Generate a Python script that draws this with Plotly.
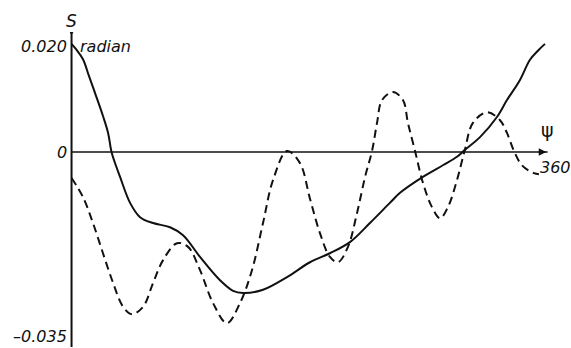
import plotly.graph_objects as go

# Solid curve: S (radian) against psi (degrees)
psi_solid = [0, 3.4, 8.7, 13.3, 18.6, 23.9, 27.8, 30.4, 33.8, 36.9, 44.5, 52.1, 62.0,
             74.9, 84.8, 97.7, 112.9, 122.8, 130.4, 145.6, 163.9, 181.3, 196.5, 211.7,
             226.9, 242.1, 249.8, 267.2, 282.4, 293.1, 299.1, 310.6, 323.5, 331.1,
             341.0, 348.6, 355.0, 360]
s_solid = [0.0204, 0.0194, 0.0175, 0.0143, 0.0106, 0.0068, 0.0036, 0.0, -0.0026,
           -0.0047, -0.0096, -0.0123, -0.0134, -0.0142, -0.0157, -0.0198, -0.0242,
           -0.0262, -0.0266, -0.0260, -0.0236, -0.0208, -0.0191, -0.0170, -0.0134,
           -0.0096, -0.0077, -0.0047, -0.0025, -0.0009, 0.0004, 0.0028, 0.0066,
           0.0098, 0.0136, 0.0174, 0.0192, 0.0204]

# Dashed curve
psi_dash = [0, 8.7, 16.3, 23.9, 31.6, 39.2, 46.0, 54.4, 62.0, 69.6, 80.2,
            88.6, 97.7, 107.6, 118.2, 128.1, 137.2, 145.6, 153.2,
            163.9, 173.7, 181.3, 188.9, 196.5, 202.6, 210.2, 217.1,
            223.2, 228.5, 232.3, 236.1, 244.4, 252.0, 255.8, 261.2,
            267.2, 274.1, 280.2, 286.2, 293.1, 299.1, 305.2,
            315.9, 325.8, 331.1, 336.4, 342.5, 351.6, 355.4]
s_dash = [-0.0049, -0.0085, -0.0134, -0.0191, -0.0247, -0.0292, -0.0306,
          -0.0292, -0.0247, -0.0204, -0.0172, -0.0179, -0.0223, -0.0285,
          -0.0323, -0.0285, -0.0223, -0.0134, -0.0053,
          0.0002, -0.0021, -0.0088, -0.0153, -0.0198, -0.0208,
          -0.0179, -0.0115, -0.0047, 0.0002, 0.0055, 0.0098, 0.0113,
          0.0098, 0.0055, 0.0002, -0.0058, -0.0104, -0.0125,
          -0.0104, -0.0053, 0.0004, 0.0055, 0.0075, 0.0060, 0.0036, 0.0002,
          -0.0025, -0.0040, -0.0042]

# Axis labelling
y_tick_vals = [0.020, 0.0, -0.035]
y_tick_text = ["0.020", "0", "\u20130.035"]
x_end = 360
x_end_text = "360"
y_unit = "radian"
x_name = "\u03c8"
y_name = "S"

FONT = "DejaVu Sans"
INK = "#111111"

fig = go.Figure()
fig.add_trace(go.Scatter(x=psi_solid, y=s_solid, mode="lines",
                         line=dict(color=INK, width=2, shape="spline", smoothing=1.0),
                         hoverinfo="skip"))
fig.add_trace(go.Scatter(x=psi_dash, y=s_dash, mode="lines",
                         line=dict(color=INK, width=2, dash="8px,5px",
                                   shape="spline", smoothing=1.0),
                         hoverinfo="skip"))

# Vertical S axis and horizontal psi axis
fig.add_shape(type="line", x0=0, x1=0, y0=-0.0368, y1=0.0225,
              line=dict(color=INK, width=2))
fig.add_shape(type="line", x0=-1.2, x1=1.2, y0=0.0225, y1=0.0225,
              line=dict(color=INK, width=1.5))
fig.add_shape(type="line", x0=0, x1=x_end + 2, y0=0, y1=0,
              line=dict(color=INK, width=1.5))
fig.add_annotation(x=x_end + 1, y=0, ax=x_end - 6, ay=0, axref="x", ayref="y",
                   xref="x", yref="y", showarrow=True, arrowhead=2, arrowsize=1,
                   arrowwidth=1.5, arrowcolor=INK, text="")

label_font = dict(family=FONT, size=16, color=INK, style="italic")
for v, t in zip(y_tick_vals, y_tick_text):
    fig.add_annotation(x=0, y=v, xref="x", yref="y", text=t, showarrow=False,
                       xanchor="right", yanchor="middle", xshift=-3,
                       yshift=(1 if v < -0.03 else 0), font=label_font)

fig.add_annotation(x=0, y=0.020, xref="x", yref="y", text=y_unit, showarrow=False,
                   xanchor="left", yanchor="middle", xshift=6, font=label_font)
fig.add_annotation(x=x_end - 5, y=0, xref="x", yref="y", text=x_end_text,
                   showarrow=False, xanchor="left", yanchor="top", yshift=-4,
                   font=label_font)
fig.add_annotation(x=0, y=0.0225, xref="x", yref="y", text=y_name, showarrow=False,
                   xanchor="center", yanchor="bottom", yshift=0,
                   font=dict(family=FONT, size=17, color=INK, style="italic"))
fig.add_annotation(x=x_end + 2, y=0, xref="x", yref="y", text=x_name,
                   showarrow=False, xanchor="center", yanchor="bottom", yshift=9,
                   font=dict(family=FONT, size=19, color=INK))

fig.update_layout(
    width=571, height=348,
    margin=dict(l=0, r=0, t=0, b=0),
    paper_bgcolor="white", plot_bgcolor="white",
    showlegend=False,
    xaxis=dict(range=[-54.4, 379.8], visible=False, fixedrange=True),
    yaxis=dict(range=[-0.03698, 0.02868], visible=False, fixedrange=True),
)

fig.write_html("out.html")
